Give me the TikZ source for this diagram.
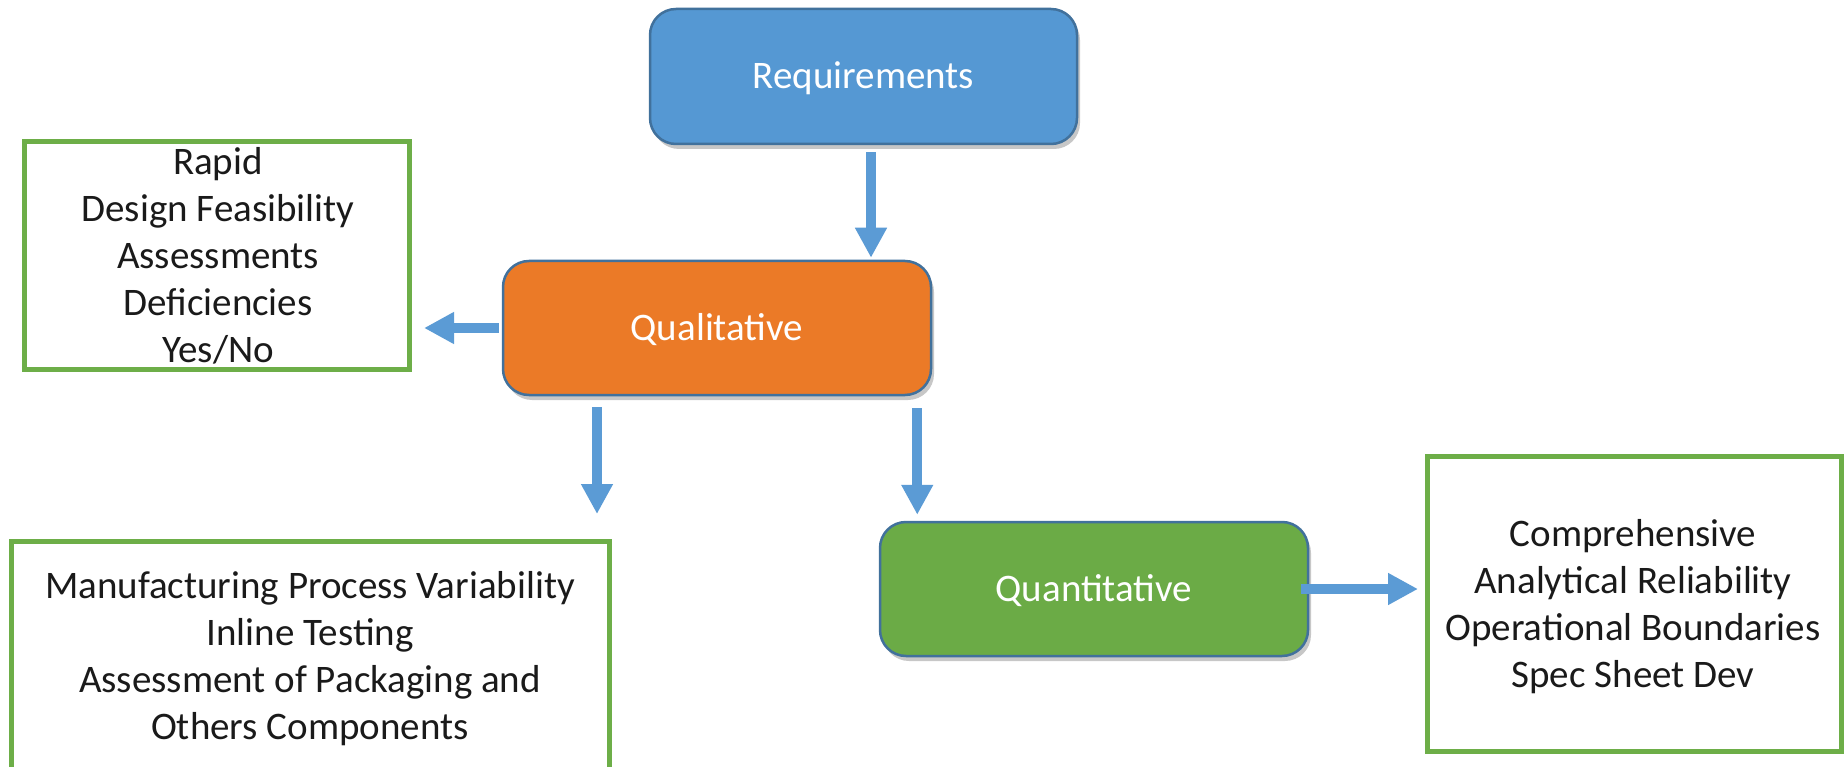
\documentclass[tikz,border=0pt]{standalone}
\usepackage{fontspec}
\setmainfont{Carlito}
\usetikzlibrary{arrows.meta,shadows}

\definecolor{reqblue}{HTML}{5598D3}
\definecolor{qualorange}{HTML}{EB7A27}
\definecolor{quantgreen}{HTML}{6BAB46}
\definecolor{edgeblue}{HTML}{41719C}
\definecolor{arrowblue}{HTML}{5B9BD5}
\definecolor{framegreen}{HTML}{6DAE48}
\definecolor{inktext}{HTML}{1A1A1A}

\tikzset{
  stage/.style={draw=edgeblue, line width=2.5pt, rounded corners=26pt,
    text=white, inner sep=0pt, text height=25pt, text depth=0pt,
    font=\fontsize{39}{47}\selectfont,
    drop shadow={shadow xshift=3pt, shadow yshift=-5pt, fill=black, opacity=0.22}},
  outcome/.style={draw=framegreen, line width=5pt, fill=white, inner sep=0pt},
  % multi-line texts are placed by the baseline of their last line
  outcometext/.style={text=inktext, align=center, inner sep=0pt, anchor=base,
    font=\fontsize{39}{47}\selectfont},
  flow/.style={draw=arrowblue, line width=10pt,
    -{Triangle[width=30pt,length=30pt]}}
}

\begin{document}
\begin{tikzpicture}[x=1pt,y=-1pt]
  \clip (0,0) rectangle (1846,767);
  \fill[white] (0,0) rectangle (1846,767);

  % process stages
  \node[stage, fill=reqblue, minimum width=427pt, minimum height=135pt]
    (req) at (863.5,76.5) {Requirements};
  \node[stage, fill=qualorange, minimum width=428pt, minimum height=134pt]
    (qual) at (717,328) {Qualitative};
  \node[stage, fill=quantgreen, minimum width=428pt, minimum height=134pt]
    (quant) at (1094,589) {Quantitative};

  % outcome frames
  \node[outcome, minimum width=385.5pt, minimum height=228pt]
    (rapid) at (216.8,255.5) {};
  \node[outcometext] (rapidtext) at (218,362)
    {Rapid\\Design Feasibility\\Assessments\\Deficiencies\\Yes/No};

  \node[outcome, minimum width=597.5pt, minimum height=260pt]
    (mfg) at (310.25,671.5) {};
  \node[outcometext] (mfgtext) at (310,739)
    {Manufacturing Process Variability\\Inline Testing\\Assessment of Packaging and\\Others Components};

  \node[outcome, minimum width=414pt, minimum height=295pt]
    (comp) at (1634.5,604) {};
  \node[outcometext] (comptext) at (1633,687)
    {Comprehensive\\Analytical Reliability\\Operational Boundaries\\Spec Sheet Dev};

  % connectors
  \draw[flow, shorten <=7pt, shorten >=2pt]
    ([xshift=7.5pt]req.south) -- ([xshift=7.5pt]req.south |- qual.north);
  \draw[flow, shorten <=3pt, shorten >=12pt]
    (qual.west) -- (qual.west -| rapid.east);
  \draw[flow, shorten <=11pt, shorten >=25pt]
    ([xshift=-120pt]qual.south) -- ([xshift=-120pt]qual.south |- mfg.north);
  \draw[flow, shorten <=12pt, shorten >=6pt]
    ([xshift=-15pt]qual.south east) -- ([xshift=-15pt]qual.south east |- quant.north);
  \draw[flow, shorten <=-8pt, shorten >=7pt]
    (quant.east) -- (quant.east -| comp.west);
\end{tikzpicture}
\end{document}
